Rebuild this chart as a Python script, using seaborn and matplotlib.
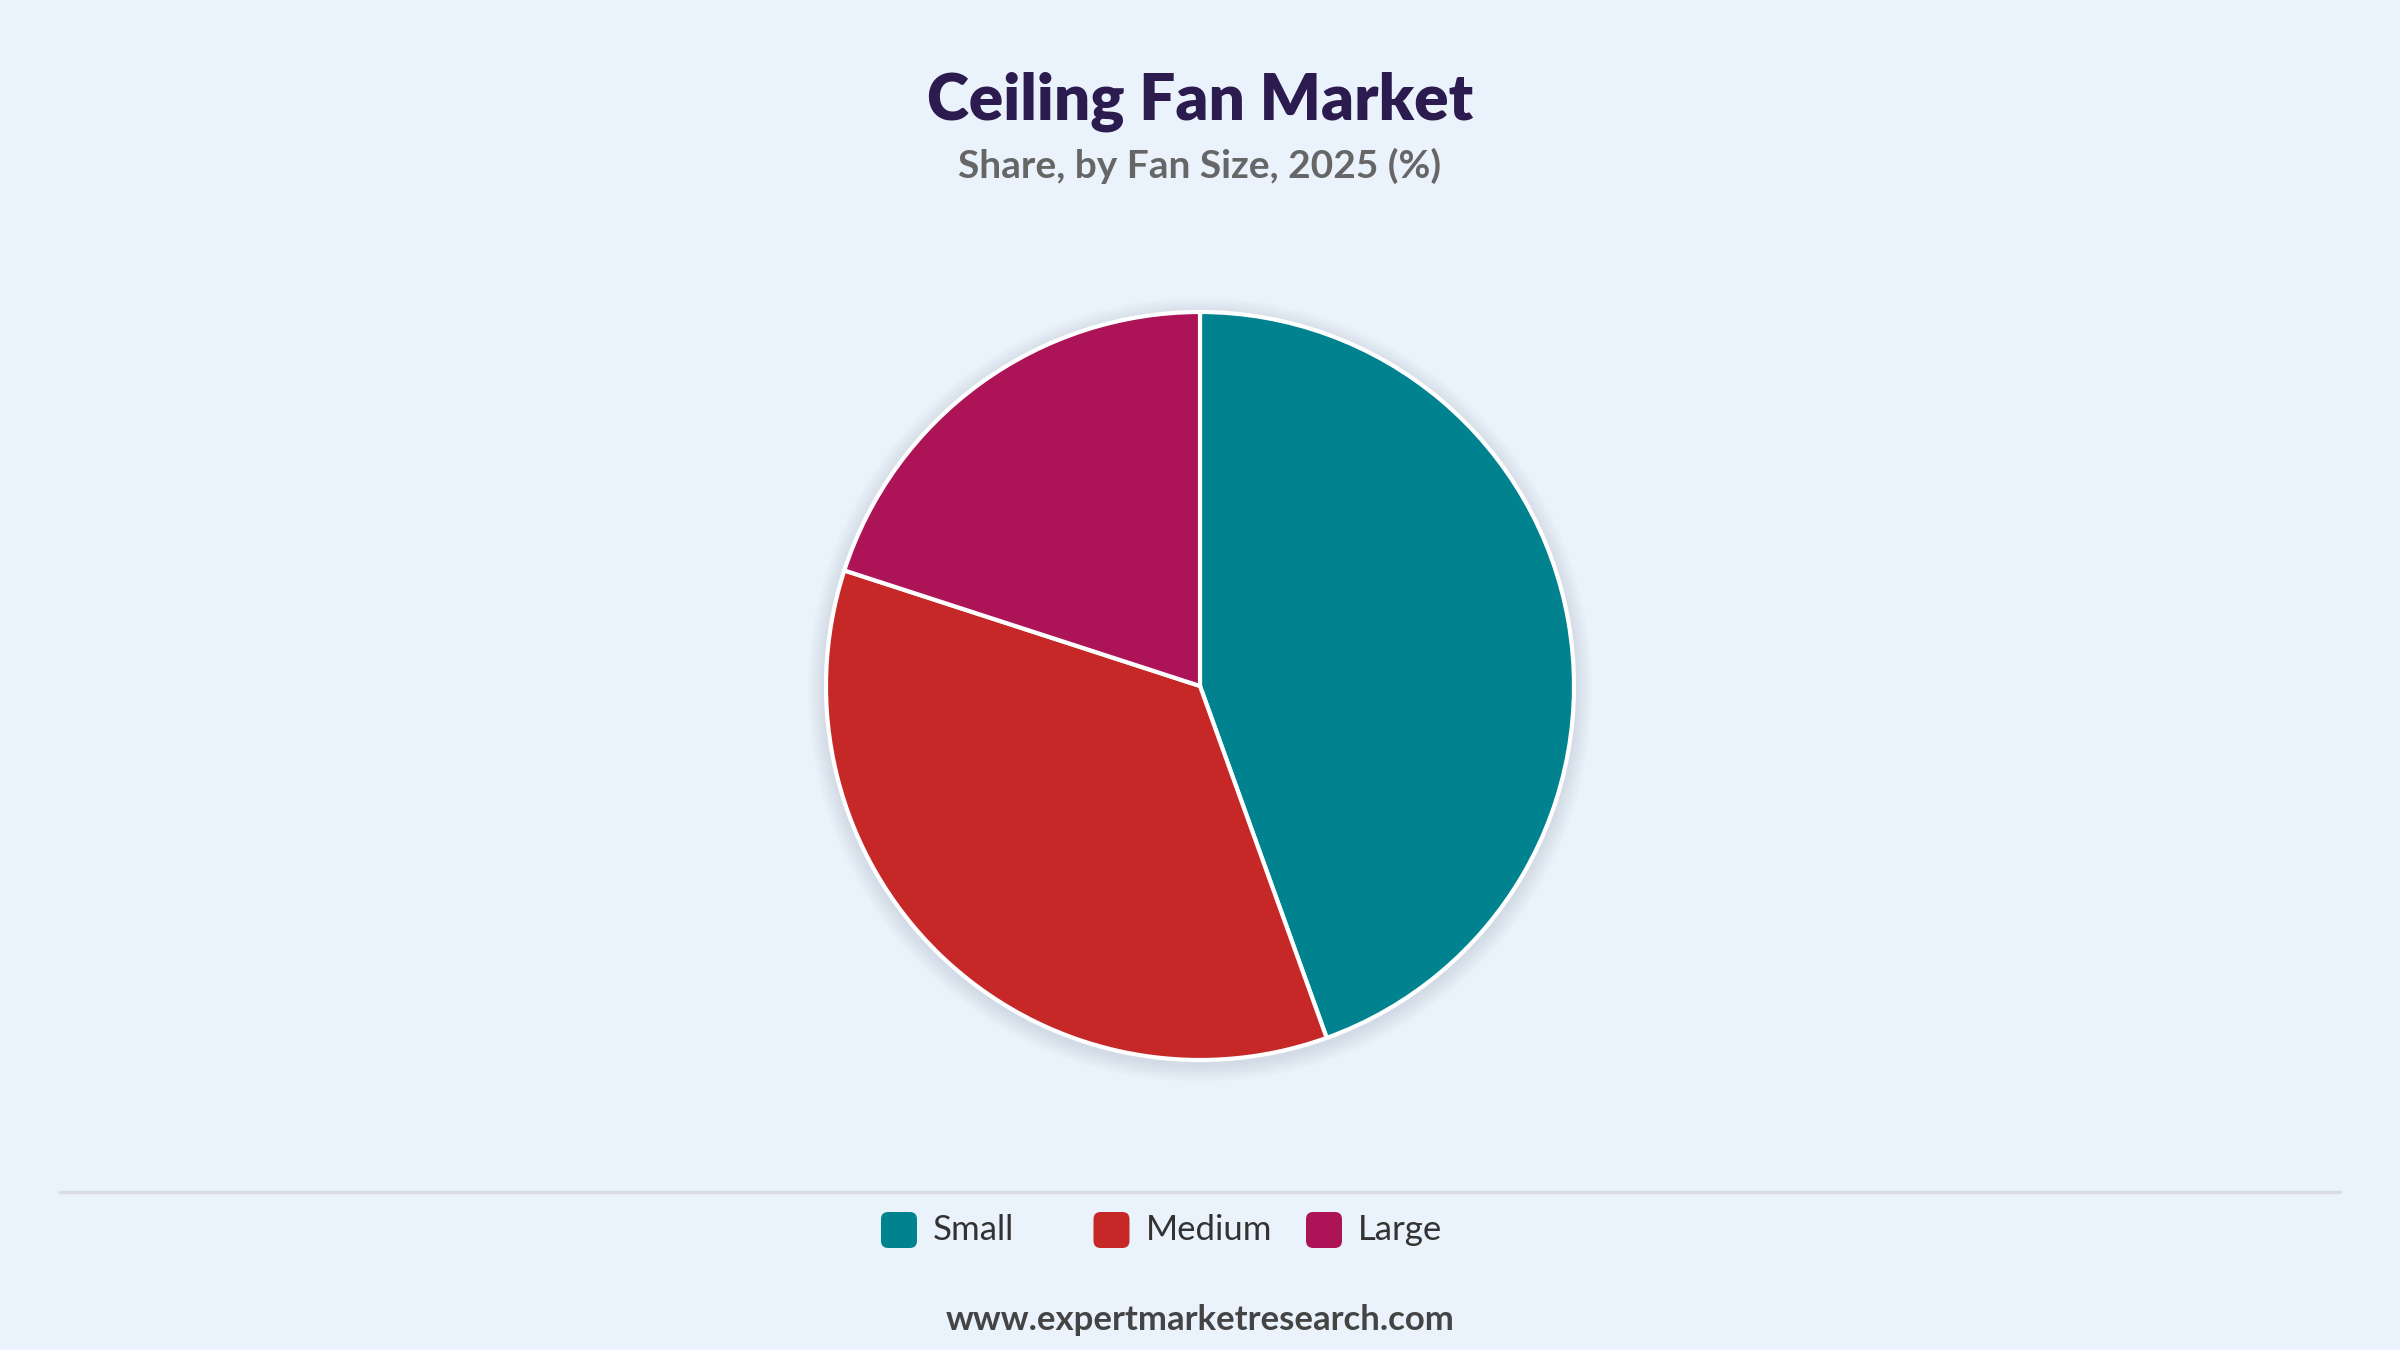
"""Ceiling fan market share by fan size, 2025."""

import matplotlib.pyplot as plt
import seaborn as sns
from matplotlib.patches import Circle, FancyBboxPatch

# data
SIZES = ["Small", "Medium", "Large"]
SHARES = [44.5, 35.5, 20.0]
COLORS = ["#00838F", "#C62828", "#AD1457"]

BG = "#EAF2FB"
W, H = 2400, 1350

sns.set_theme(style="white")
plt.rcParams["font.family"] = ["Lato", "DejaVu Sans"]

fig = plt.figure(figsize=(24, 13.5), dpi=100, facecolor=BG)

# pie centred at (1200, 686) px with radius ~374 px; limits pad by 6%
LIM = 1.06
side = 2 * 374 * LIM
cx, cy = 1200, H - 686
ax = fig.add_axes([(cx - side / 2) / W, (cy - side / 2) / H, side / W, side / H])
ax.set_facecolor(BG)

# soft drop shadow behind the pie
for i in range(8):
    ax.add_patch(Circle((0.0, -0.01), 1.0 + 0.006 * (i + 1), color="#9aa7b5",
                        alpha=0.035, lw=0, zorder=0))

ax.pie(SHARES, colors=sns.color_palette(COLORS), startangle=90, counterclock=False,
       radius=1.0, wedgeprops=dict(edgecolor="white", linewidth=3))
ax.set_xlim(-LIM, LIM)
ax.set_ylim(-LIM, LIM)
ax.set_aspect("equal")
ax.axis("off")

fig.text(0.5, 1 - 102 / H, "Ceiling Fan Market", ha="center", va="center",
         fontsize=46, fontweight="heavy", color="#2B1B4E")
fig.text(0.5, 1 - 166 / H, "Share, by Fan Size, 2025 (%)", ha="center", va="center",
         fontsize=28, fontweight="bold", color="#666666")

# separator line above the legend
fig.add_artist(plt.Line2D([0.025, 0.975], [1 - 1192 / H] * 2, color="#d9dde3",
                          lw=2.5, transform=fig.transFigure))

# legend entries, evenly spaced
leg_y = 1 - 1230 / H
sw_w, sw_h = 36 / W, 36 / H
for i, (name, col) in enumerate(zip(SIZES, COLORS)):
    x0 = (881 + i * 212.5) / W
    fig.add_artist(FancyBboxPatch((x0, leg_y - sw_h / 2), sw_w, sw_h,
                                  boxstyle="round,pad=0,rounding_size=0.003",
                                  transform=fig.transFigure, facecolor=col,
                                  edgecolor="none", mutation_aspect=W / H))
    fig.text(x0 + sw_w + 16 / W, leg_y, name, ha="left", va="center",
             fontsize=25, color="#333333")

fig.text(0.5, 1 - 1320 / H, "www.expertmarketresearch.com", ha="center",
         va="center", fontsize=25, fontweight="bold", color="#444444")

fig.savefig("out.png", dpi=100, facecolor=BG)
